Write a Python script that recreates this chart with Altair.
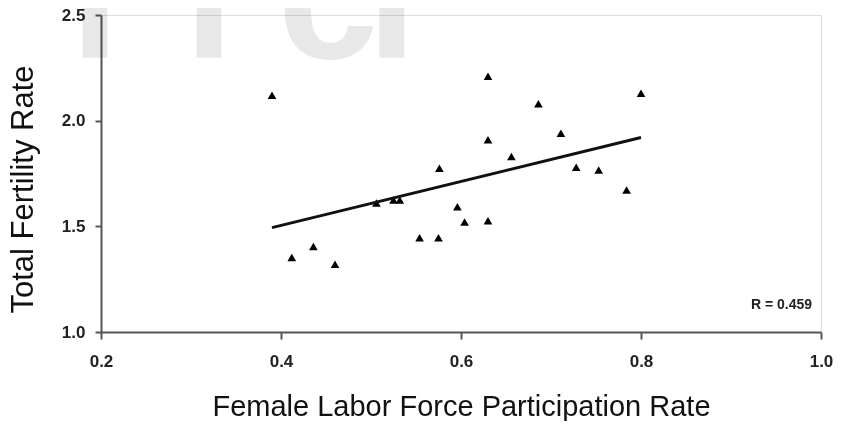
import altair as alt
import pandas as pd

# Scatter points
flfp = [0.390, 0.630, 0.686, 0.800, 0.711, 0.630, 0.656, 0.576, 0.728, 0.753,
        0.784, 0.506, 0.525, 0.532, 0.596, 0.604, 0.630, 0.554, 0.575, 0.436,
        0.412, 0.460]
tfr = [2.12, 2.21, 2.08, 2.13, 1.94, 1.91, 1.83, 1.775, 1.78, 1.767,
       1.672, 1.61, 1.625, 1.625, 1.593, 1.52, 1.527, 1.446, 1.446, 1.404,
       1.353, 1.32]

# Fitted line end points
line_x = [0.39, 0.80]
line_y = [1.494, 1.92]

# Annotation
note_text = ["R = 0.459"]
note_x = [0.990]
note_y = [1.128]

x_ticks = [0.2, 0.4, 0.6, 0.8, 1.0]
y_ticks = [1.0, 1.5, 2.0, 2.5]

# Faint watermark glyphs at the top-left of the picture
wm_glyphs = ["l", "l", "l", "c", "l"]

pts = pd.DataFrame({"x": flfp, "y": tfr})
ln = pd.DataFrame({"x": line_x, "y": line_y})
nt = pd.DataFrame({"x": note_x, "y": note_y, "t": note_text})
one = pd.DataFrame({"k": [0]})

FONT = "Liberation Sans"

xscale = alt.Scale(domain=[0.2, 1.0], nice=False, zero=False)
yscale = alt.Scale(domain=[1.0, 2.5], nice=False, zero=False)

xaxis = alt.Axis(values=x_ticks, format=".1f", title="Female Labor Force Participation Rate",
                 grid=False, tickSize=7, tickColor="#555", tickWidth=2,
                 domainColor="#555", domainWidth=2, labelFlush=False,
                 labelFont=FONT, labelFontSize=17, labelFontWeight="bold", labelColor="#222",
                 labelPadding=14,
                 titleFont=FONT, titleFontSize=29, titleFontWeight="normal", titleColor="#111",
                 titleY=74, titleBaseline="middle")
yaxis = alt.Axis(values=y_ticks, format=".1f", title="Total Fertility Rate",
                 grid=False, tickSize=6, tickColor="#555", tickWidth=2,
                 domainColor="#555", domainWidth=2, labelFlush=False,
                 labelFont=FONT, labelFontSize=17, labelFontWeight="bold", labelColor="#222",
                 labelPadding=10,
                 titleFont=FONT, titleFontSize=31, titleFontWeight="normal", titleColor="#111",
                 titleX=-78, titleY=174, titleAngle=270, titleBaseline="middle", titleAlign="center")

points = alt.Chart(pts).mark_point(shape="triangle-up", filled=True, color="black",
                                   size=75, opacity=1).encode(
    x=alt.X("x:Q", scale=xscale, axis=xaxis),
    y=alt.Y("y:Q", scale=yscale, axis=yaxis),
)

line = alt.Chart(ln).mark_line(color="#111", strokeWidth=3).encode(
    x=alt.X("x:Q", scale=xscale),
    y=alt.Y("y:Q", scale=yscale),
)

note = alt.Chart(nt).mark_text(align="right", baseline="middle", font=FONT,
                               fontSize=14, fontWeight="bold", color="#222").encode(
    x=alt.X("x:Q", scale=xscale),
    y=alt.Y("y:Q", scale=yscale),
    text="t:N",
)

wm_pos = [(-106, "center"), (-6, "center"), (108, "center"), (177, "left"), (291, "center")]
wm_layers = []
for g, (px, al) in zip(wm_glyphs, wm_pos):
    wm_layers.append(
        alt.Chart(one).mark_text(align=al, baseline="alphabetic", font=FONT, fontSize=180,
                                 fontWeight="bold", color="#e8e8e8", blend="multiply").encode(
            x=alt.value(px), y=alt.value(43), text=alt.value(g)
        )
    )

chart = alt.layer(points, line, note, *wm_layers).properties(
    width=720, height=317,
    padding={"left": 93, "top": 7, "right": 13, "bottom": 89},
    autosize=alt.AutoSizeParams(type="none"),
).configure_view(stroke="#555", strokeWidth=2).configure(background="white")

chart.save("out.html", embed_options={"renderer": "svg", "actions": False})
